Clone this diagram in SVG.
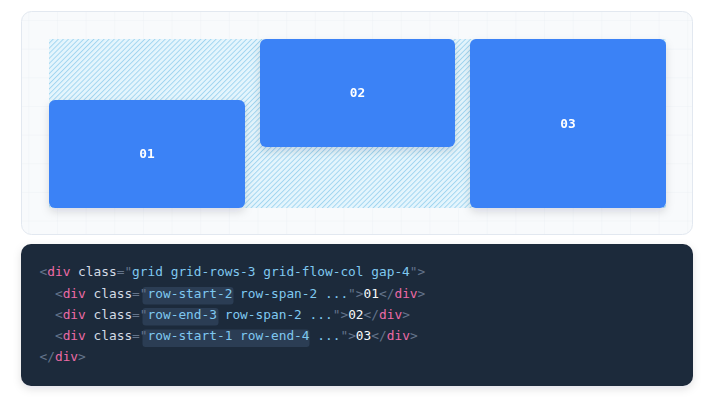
<svg xmlns="http://www.w3.org/2000/svg" width="705" height="405" viewBox="0 0 705 405">
  <defs>
    <pattern id="grid" x="0.65" y="20" width="28.65" height="28.65" patternUnits="userSpaceOnUse">
      <path d="M28.65 0 V28.65 M0 0 H28.65" fill="none" stroke="#edf1f5" stroke-width="1"/>
    </pattern>
    <pattern id="hatch" width="3.6" height="10" patternUnits="userSpaceOnUse" patternTransform="rotate(45)">
      <rect width="3.6" height="10" fill="#e4f5fd"/>
      <line x1="0.5" y1="0" x2="0.5" y2="10" stroke="#9ad2ee" stroke-width="0.9"/>
    </pattern>
    <filter id="shadow" x="-20%" y="-20%" width="140%" height="150%">
      <feDropShadow dx="0" dy="4" stdDeviation="4" flood-color="#0f172a" flood-opacity="0.13"/>
    </filter>
    <filter id="cshadow" x="-5%" y="-10%" width="110%" height="130%">
      <feDropShadow dx="0" dy="3" stdDeviation="4" flood-color="#0f172a" flood-opacity="0.12"/>
    </filter>
  </defs>
  <style>
    .box { fill: #3b82f6; }
    .lbl { font-family: "DejaVu Sans Mono", "Liberation Mono", monospace; font-size: 12.8px; font-weight: bold; fill: #ffffff; text-anchor: middle; }
    .code { font-family: "DejaVu Sans Mono", "Liberation Mono", monospace; font-size: 12.82px; fill: #cbd5e1; }
    .p { fill: #64748b; }
    .t { fill: #ec6aa6; }
    .a { fill: #d3dbe6; }
    .s { fill: #7fc8f0; }
    .w { fill: #f8fafc; }
    .hl { fill: #2b3d54; }
  </style>

  <rect width="705" height="405" fill="#ffffff"/>

  <!-- preview panel -->
  <g id="preview">
    <rect x="21.5" y="11.5" width="671" height="223" rx="10" fill="#f8fafc"/>
    <rect x="21.5" y="11.5" width="671" height="223" rx="10" fill="url(#grid)"/>
    <rect x="21.5" y="11.5" width="671" height="223" rx="10" fill="none" stroke="#e2e8f0" stroke-width="1"/>
    <rect x="49" y="39" width="617" height="169" fill="url(#hatch)"/>
  </g>

  <g id="connectors"/>

  <g id="n01" filter="url(#shadow)">
    <rect class="box" x="49" y="100" width="196" height="108" rx="6"/>
    <text class="lbl" x="147" y="158">01</text>
  </g>
  <g id="n02" filter="url(#shadow)">
    <rect class="box" x="260" y="39" width="195" height="108" rx="6"/>
    <text class="lbl" x="357.5" y="97">02</text>
  </g>
  <g id="n03" filter="url(#shadow)">
    <rect class="box" x="470" y="39" width="196" height="169" rx="6"/>
    <text class="lbl" x="568" y="128">03</text>
  </g>

  <!-- code panel -->
  <g id="code">
    <rect x="21" y="244" width="672" height="142" rx="10" fill="#1e293b" filter="url(#cshadow)"/>
    <rect class="hl" x="142.5" y="287" width="91" height="17.5" rx="3"/>
    <rect class="hl" x="142.5" y="308" width="76" height="17.5" rx="3"/>
    <rect class="hl" x="142.5" y="329.5" width="167" height="17.5" rx="3"/>
    <text class="code" x="39.5" y="276" xml:space="preserve"><tspan class="p">&lt;</tspan><tspan class="t">div</tspan> <tspan class="a">class</tspan><tspan class="p">=</tspan><tspan class="p">"</tspan><tspan class="s">grid grid-rows-3 grid-flow-col gap-4</tspan><tspan class="p">"</tspan><tspan class="p">&gt;</tspan></text>
    <text class="code" x="39.5" y="297.5" xml:space="preserve">  <tspan class="p">&lt;</tspan><tspan class="t">div</tspan> <tspan class="a">class</tspan><tspan class="p">=</tspan><tspan class="p">"</tspan><tspan class="s">row-start-2 row-span-2 ...</tspan><tspan class="p">"</tspan><tspan class="p">&gt;</tspan><tspan class="w">01</tspan><tspan class="p">&lt;/</tspan><tspan class="t">div</tspan><tspan class="p">&gt;</tspan></text>
    <text class="code" x="39.5" y="318.5" xml:space="preserve">  <tspan class="p">&lt;</tspan><tspan class="t">div</tspan> <tspan class="a">class</tspan><tspan class="p">=</tspan><tspan class="p">"</tspan><tspan class="s">row-end-3 row-span-2 ...</tspan><tspan class="p">"</tspan><tspan class="p">&gt;</tspan><tspan class="w">02</tspan><tspan class="p">&lt;/</tspan><tspan class="t">div</tspan><tspan class="p">&gt;</tspan></text>
    <text class="code" x="39.5" y="340" xml:space="preserve">  <tspan class="p">&lt;</tspan><tspan class="t">div</tspan> <tspan class="a">class</tspan><tspan class="p">=</tspan><tspan class="p">"</tspan><tspan class="s">row-start-1 row-end-4 ...</tspan><tspan class="p">"</tspan><tspan class="p">&gt;</tspan><tspan class="w">03</tspan><tspan class="p">&lt;/</tspan><tspan class="t">div</tspan><tspan class="p">&gt;</tspan></text>
    <text class="code" x="39.5" y="361" xml:space="preserve"><tspan class="p">&lt;/</tspan><tspan class="t">div</tspan><tspan class="p">&gt;</tspan></text>
  </g>
</svg>
